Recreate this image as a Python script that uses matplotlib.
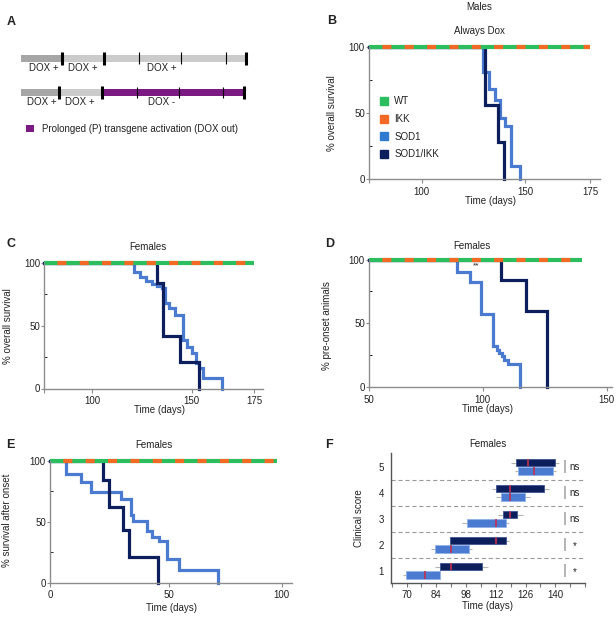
import numpy as np
import matplotlib
matplotlib.use("Agg")
import matplotlib.pyplot as plt
from matplotlib.lines import Line2D
from matplotlib.patches import Patch

plt.rcParams['font.family'] = ['Liberation Sans', 'DejaVu Sans']
plt.rcParams['font.size'] = 7
plt.rcParams['lines.scale_dashes'] = False
plt.rcParams['text.color'] = '#222222'

# colours
wt_green = '#2cbd5e'
ikk_orange = '#f26a23'
sod1_blue = '#4a7bd1'
sod1ikk_navy = '#0c1f5c'
dox_purple = '#7a1a82'

# ---- A: schematic timelines (arbitrary units) ----
row1_edges = [0, 4.0, 22.6]
row1_fills = ['#a6a6a6', '#cbcbcb']
row1_thick = [4.1, 8.3, 22.5]
row1_thin = [11.8, 16.0, 20.5]
row1_text = ['DOX +', 'DOX +', 'DOX +']
row1_text_at = [2.3, 6.2, 14.1]

row2_edges = [0, 3.8, 8.0, 22.3]
row2_fills = ['#a6a6a6', '#cbcbcb', dox_purple]
row2_thick = [3.85, 8.1, 22.3]
row2_thin = [11.6, 15.8, 20.2]
row2_text = ['DOX +', 'DOX +', 'DOX -']
row2_text_at = [2.1, 5.9, 14.1]

# ---- B: males, always dox, overall survival ----
b_sod1_t = [129.8, 132.6, 135.5, 138.0, 140.2, 143.0, 147.6]
b_sod1_s = [81, 68, 60, 46, 40, 10, 0]
b_ikk_t = [130.6, 137.0, 140.0]
b_ikk_s = [56, 28, 0]
b_wt_end = 175

# ---- C: females, overall survival ----
c_sod1_t = [121.1, 124.0, 127.0, 129.8, 132.7, 134.9, 136.5, 138.7, 141.6,
            145.5, 147.5, 150.0, 151.7, 153.0, 154.4, 162.0]
c_sod1_s = [93, 88.5, 85.3, 83.2, 82, 80, 68, 64, 58.6, 38.6, 33.3, 28, 20,
            16.5, 8, 0]
c_ikk_t = [132.5, 135.3, 144.0, 152.8]
c_ikk_s = [84, 42, 21, 0]
c_wt_end = 175

# ---- D: females, pre-onset ----
d_sod1_t = [88.8, 94.4, 99.1, 104.0, 105.6, 106.6, 107.7, 108.6, 110.0, 115.0]
d_sod1_s = [90.5, 82.5, 57, 32.5, 29, 27, 24, 21, 18.2, 0]
d_ikk_t = [107.4, 117.5, 125.8]
d_ikk_s = [84, 59.6, 0]
d_wt_end = 140

# ---- E: females, survival after onset ----
e_sod1_t = [6.6, 13.1, 17.2, 29.9, 33.8, 34.9, 40.8, 42.9, 45.7, 49.0, 54.5, 71.6]
e_sod1_s = [89, 82.5, 74.6, 68.7, 55.8, 50.4, 42.4, 37.8, 34.1, 19.1, 10.2, 0]
e_ikk_t = [22.4, 24.6, 30.5, 33.0, 45.4]
e_ikk_s = [84.5, 62.2, 43.2, 20.7, 0]
e_wt_end = 98

# ---- F: females, clinical score box plots (days) ----
scores = [1, 2, 3, 4, 5]
f_sod1_lo = [68.4, 81.3, 96.1, 112.0, 120.9]
f_sod1_q1 = [69.7, 83.2, 98.3, 114.3, 122.4]
f_sod1_med = [78.5, 90.7, 112.0, 118.7, 129.9]
f_sod1_q3 = [85.9, 99.2, 116.7, 125.7, 138.7]
f_sod1_hi = [85.9, 100.8, 118.2, 128.3, 140.5]
f_ikk_lo = [83.2, 90.2, 113.2, 110.1, 119.3]
f_ikk_q1 = [85.5, 90.2, 115.4, 112.0, 121.3]
f_ikk_med = [91.0, 112.0, 118.7, 118.7, 127.1]
f_ikk_q3 = [105.3, 116.7, 121.8, 134.5, 140.0]
f_ikk_hi = [108.1, 118.2, 124.9, 137.2, 141.9]
f_sig = ['*', '*', 'ns', 'ns', 'ns']

W, H = 616, 617
fig = plt.figure(figsize=(W / 100, H / 100), dpi=100)


def box(l, t, r, b):
    # axes placed in pixel coordinates of the figure
    return fig.add_axes([l / W, 1 - b / H, (r - l) / W, (b - t) / H])


def label(x, y, s, **kw):
    fig.text(x / W, 1 - y / H, s, **kw)


def interp_ext(x, xp, fp):
    x = np.asarray(x, float)
    y = np.interp(x, xp, fp)
    lo = fp[0] + (x - xp[0]) * (fp[1] - fp[0]) / (xp[1] - xp[0])
    hi = fp[-1] + (x - xp[-1]) * (fp[-1] - fp[-2]) / (xp[-1] - xp[-2])
    return np.where(x < xp[0], lo, np.where(x > xp[-1], hi, y))


def survival(ax, days, spots, ticks, ticklabels, wt_end, sod1_t, sod1_s, ikk_t, ikk_s):
    # the original time axes are not evenly spaced, so bend the scale through the tick spots
    ax.set_xscale('function', functions=(lambda x: interp_ext(x, days, spots),
                                         lambda y: interp_ext(y, spots, days)))
    ax.set_xlim(days[0], days[-1])
    ax.set_ylim(0, 100)
    x0 = days[0]
    ax.step([x0] + sod1_t, [100] + sod1_s, where='post', color=sod1_blue, lw=2.3,
            clip_on=False, solid_joinstyle='miter')
    ax.step([x0] + ikk_t, [100] + ikk_s, where='post', color=sod1ikk_navy, lw=2.3,
            clip_on=False, solid_joinstyle='miter')
    ax.plot([x0, wt_end], [100, 100], color=wt_green, lw=3.0, clip_on=False,
            solid_capstyle='butt')
    ax.plot([x0, wt_end], [100, 100], color=ikk_orange, lw=3.0, clip_on=False,
            linestyle=(6.5, (6.5, 9.6)), dash_capstyle='butt')
    for s in ['top', 'right']:
        ax.spines[s].set_visible(False)
    for s in ['left', 'bottom']:
        ax.spines[s].set_color('#8c8c8c')
        ax.spines[s].set_linewidth(1.0)
    ax.set_xticks(ticks)
    ax.set_xticklabels(ticklabels)
    ax.set_xticks([], minor=True)
    ax.set_yticks([0, 50, 100])
    ax.set_yticks([25, 75], minor=True)
    ax.tick_params(axis='both', colors='#8c8c8c', labelcolor='#222222', labelsize=7, width=0.8)
    ax.tick_params(axis='x', length=3, pad=2.5)
    ax.tick_params(axis='y', which='major', length=2, pad=1)
    ax.tick_params(axis='y', which='minor', length=2, direction='in')


# ---------- A ----------
axA = box(0, 20, 300, 150)
axA.set_xlim(-2.07, 27.93)
axA.set_ylim(2.68, -1.12)
axA.axis('off')
for row, edges, fills, thick, thin, txt, txt_at, hgt in [
        (0, row1_edges, row1_fills, row1_thick, row1_thin, row1_text, row1_text_at, 0.2),
        (1, row2_edges, row2_fills, row2_thick, row2_thin, row2_text, row2_text_at, 0.23)]:
    for a, b, c in zip(edges[:-1], edges[1:], fills):
        axA.barh(row, b - a, left=a, height=hgt, color=c, linewidth=0)
    axA.vlines(thick, row - 0.19, row + 0.19, color='black', lw=2.2)
    axA.vlines(thin, row - 0.17, row + 0.17, color='black', lw=0.8)
    for t, xt in zip(txt, txt_at):
        axA.text(xt, row + 0.29, t, ha='center', va='center', fontsize=7)
axA.legend(handles=[Patch(facecolor=dox_purple)],
           labels=['Prolonged (P) transgene activation (DOX out)'],
           loc='center left', bbox_to_anchor=(26 / 300, 21 / 130), frameon=False,
           handlelength=0.8, handleheight=0.8, handletextpad=0.8, borderpad=0,
           borderaxespad=0, fontsize=7)
label(10.8, 22.3, 'A', fontsize=9, fontweight='bold', ha='center', va='center')

# ---------- B ----------
axB = box(369, 46.7, 600, 179.3)
survival(axB, [75, 100, 150, 175, 178.8], [369, 421.7, 525, 590, 600],
         [75, 100, 150, 175], ['', '100', '150', '175'], b_wt_end,
         b_sod1_t, b_sod1_s, b_ikk_t, b_ikk_s)
handles = [Line2D([], [], ls='', marker='s', ms=5.5, color=c)
           for c in [wt_green, ikk_orange, '#2f7bd0', sod1ikk_navy]]
axB.legend(handles, ['WT', 'IKK', 'SOD1', 'SOD1/IKK'], loc='upper left',
           bbox_to_anchor=(0.05, 0.625), frameon=False, handlelength=0.8,
           handletextpad=0.6, labelspacing=0.78, borderpad=0, borderaxespad=0,
           fontsize=7)
label(331.3, 20.7, 'B', fontsize=9, fontweight='bold', ha='center', va='center')
label(479.2, 10, 'Males', ha='center', va='baseline')
label(479.2, 33.7, 'Always Dox', ha='center', va='baseline')
label(490.8, 204.5, 'Time (days)', ha='center', va='baseline')
label(331.7, 113, '% overall survival', rotation=90, ha='center', va='center')

# ---------- C ----------
axC = box(44.3, 263, 263.3, 388.5)
survival(axC, [75, 100, 150, 175, 178.6], [44.3, 92.5, 191.7, 254.3, 263.3],
         [75, 100, 150, 175], ['', '100', '150', '175'], c_wt_end,
         c_sod1_t, c_sod1_s, c_ikk_t, c_ikk_s)
label(10.8, 243.8, 'C', fontsize=9, fontweight='bold', ha='center', va='center')
label(148.3, 250, 'Females', ha='center', va='baseline')
label(160, 413.3, 'Time (days)', ha='center', va='baseline')
label(7.8, 325.7, '% overall survival', rotation=90, ha='center', va='center')

# ---------- D ----------
axD = box(369, 259.5, 612, 387)
survival(axD, [50, 100, 150, 152.2], [369, 482.7, 606.7, 612],
         [50, 100, 150], ['50', '100', '150'], d_wt_end,
         d_sod1_t, d_sod1_s, d_ikk_t, d_ikk_s)
axD.text(97.2, 94.7, '**', ha='center', va='center', fontsize=6)
label(329.2, 243.8, 'D', fontsize=9, fontweight='bold', ha='center', va='center')
label(471.7, 249.3, 'Females', ha='center', va='baseline')
label(488, 411.7, 'Time (days)', ha='center', va='baseline')
label(326.8, 326, '% pre-onset animals', rotation=90, ha='center', va='center')

# ---------- E ----------
axE = box(50, 460.7, 291.7, 582.7)
survival(axE, [0, 50, 100, 104.4], [50, 169.3, 281.7, 291.7],
         [0, 50, 100], ['0', '50', '100'], e_wt_end,
         e_sod1_t, e_sod1_s, e_ikk_t, e_ikk_s)
label(10.8, 444.7, 'E', fontsize=9, fontweight='bold', ha='center', va='center')
label(153.7, 447.7, 'Females', ha='center', va='baseline')
label(171.7, 611, 'Time (days)', ha='center', va='baseline')
label(7.5, 520, '% survival after onset', rotation=90, ha='center', va='center')

# ---------- F ----------
axF = box(390.7, 453.3, 585, 582.7)
axF.set_xlim(62.5, 153.2)
axF.set_ylim(0.54, 5.52)
sc = np.array(scores, float)
box_h = 0.28
for off, lo, q1, med, q3, hi, fc, ec in [
        (0.16, f_ikk_lo, f_ikk_q1, f_ikk_med, f_ikk_q3, f_ikk_hi, sod1ikk_navy, '#3c5594'),
        (-0.16, f_sod1_lo, f_sod1_q1, f_sod1_med, f_sod1_q3, f_sod1_hi, sod1_blue, '#8fb1ea')]:
    y = sc + off
    axF.hlines(y, lo, hi, color='#b4b4b4', lw=0.8, zorder=1)
    axF.barh(y, np.array(q3) - np.array(q1), left=q1, height=box_h, color=fc,
             edgecolor=ec, linewidth=0.6, zorder=2)
    axF.vlines(med, y - box_h / 2, y + box_h / 2, color='#c2304f', lw=1.2, zorder=3)
for s in scores[:-1]:
    axF.axhline(s + 0.5, color='#9a9a9a', lw=0.8, ls=(0, (3, 2)))
for s, mark in zip(scores, f_sig):
    axF.vlines(144.7, s - 0.25, s + 0.25, color='#a8a8a8', lw=1.2)
    dy = -0.05 if mark == '*' else 0
    axF.text(149, s + dy, mark, ha='center', va='center', fontsize=7)
for s in ['top', 'right']:
    axF.spines[s].set_visible(False)
for s in ['left', 'bottom']:
    axF.spines[s].set_color('#555555')
    axF.spines[s].set_linewidth(1.0)
axF.set_xticks(np.arange(70, 141, 14))
axF.set_xticks(np.arange(63, 155, 7), minor=True)
axF.set_yticks(scores)
axF.tick_params(axis='x', which='both', colors='#777777', labelcolor='#222222',
                labelsize=7, length=3, width=0.8, pad=2.5)
axF.tick_params(axis='y', length=0, pad=5, labelsize=7, labelcolor='#222222')
label(329.2, 445, 'F', fontsize=9, fontweight='bold', ha='center', va='center')
label(488.3, 446.7, 'Females', ha='center', va='baseline')
label(488, 609.3, 'Time (days)', ha='center', va='baseline')
label(359, 518.3, 'Clinical score', rotation=90, ha='center', va='center')

fig.savefig('out.png', dpi=100)
